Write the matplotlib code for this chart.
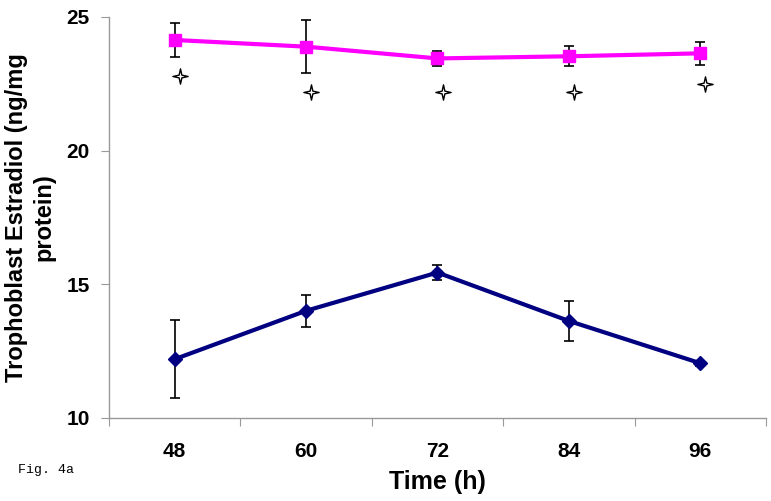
import numpy as np
from matplotlib import pyplot as plt
from matplotlib.path import Path

# data
times = ["48", "60", "72", "84", "96"]
pink_mean = [24.14, 23.89, 23.45, 23.53, 23.64]
pink_err = [0.62, 1.00, 0.28, 0.38, 0.44]
blue_mean = [12.20, 14.01, 15.44, 13.63, 12.05]
blue_err = [1.46, 0.59, 0.27, 0.74, 0.10]
star_y = [22.78, 22.18, 22.18, 22.18, 22.48]

x = np.arange(len(times))

# four-pointed star marker
s = 0.18
star = Path([(0, 1), (s, s), (1, 0), (s, -s), (0, -1), (-s, -s), (-1, 0), (-s, s), (0, 1)],
            [Path.MOVETO] + [Path.LINETO] * 7 + [Path.CLOSEPOLY])

fig = plt.figure(figsize=(7.71, 5.01), dpi=100)
ax = fig.add_axes([0.1414, 0.1657, 0.852, 0.8004])

ax.errorbar(x, pink_mean, yerr=pink_err, color="#FF00FF", lw=3, marker="s", ms=9,
            ecolor="black", elinewidth=1.2, capsize=3.5, capthick=1.2, zorder=3)
ax.errorbar(x, blue_mean, yerr=blue_err, color="#000080", lw=3, marker="D", ms=7.5,
            ecolor="black", elinewidth=1.2, capsize=3.5, capthick=1.2, zorder=3)
ax.plot(x + 0.04, star_y, linestyle="None", marker=star, ms=11,
        markerfacecolor="white", markeredgecolor="black", markeredgewidth=1.0, zorder=4)

ax.set_xlim(-0.5, len(times) - 0.5)
ax.set_ylim(10, 25)
ax.set_yticks([10, 15, 20, 25])

# boundary ticks without labels, labels at centres
ax.set_xticks(np.arange(len(times) + 1) - 0.5)
ax.set_xticklabels([])
ax.set_xticks(x, minor=True)
ax.set_xticklabels(times, minor=True)
ax.tick_params(axis="x", which="minor", length=0, pad=17)
ax.tick_params(axis="x", which="major", length=6, color="#999999", direction="out")
ax.tick_params(axis="y", length=6, color="#999999", direction="out", pad=8)

for lab in ax.get_xticklabels(minor=True) + ax.get_yticklabels():
    lab.set_fontfamily("Liberation Sans")
    lab.set_fontweight("bold")
    lab.set_fontsize(15)

for sp in ["top", "right"]:
    ax.spines[sp].set_visible(False)
for sp in ["left", "bottom"]:
    ax.spines[sp].set_color("#999999")
    ax.spines[sp].set_linewidth(1)

ax.set_xlabel("Time (h)", fontfamily="Liberation Sans", fontweight="bold", fontsize=18, labelpad=7)
ax.set_ylabel("Trophoblast Estradiol (ng/mg\nprotein)", fontfamily="Liberation Sans",
              fontweight="bold", fontsize=17, labelpad=8, linespacing=1.2)

fig.text(18 / 771, 1 - 470 / 501, "Fig. 4a", fontfamily="Liberation Mono", fontsize=9.5, va="center")

plt.savefig("out.png", dpi=100)
